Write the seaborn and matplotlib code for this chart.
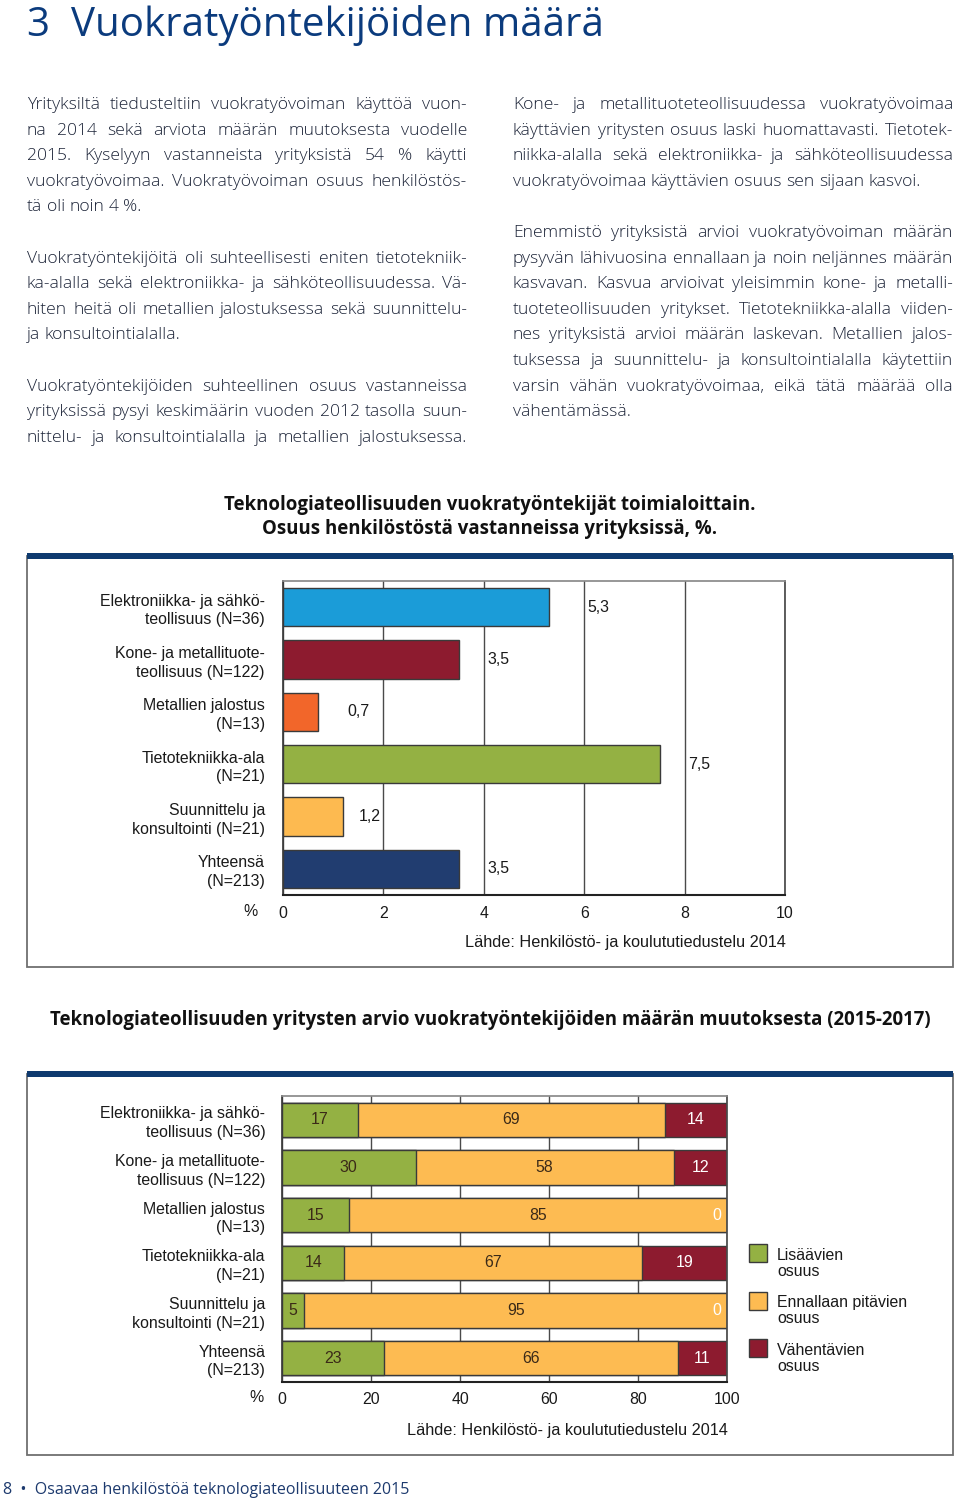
import numpy as np
import pandas as pd
import matplotlib
matplotlib.use("Agg")
import matplotlib.pyplot as plt
import seaborn as sns
from matplotlib.patches import Rectangle

sns.set_theme(style="white")
plt.rcParams["font.family"] = ["Open Sans", "DejaVu Sans"]

# ---------------- data ----------------
page_title = "3  Vuokratyöntekijöiden määrä"
footer = "8  •  Osaavaa henkilöstöä teknologiateollisuuteen 2015"

left_col = [
    ("Yrityksiltä tiedusteltiin vuokratyövoiman käyttöä vuon-", True),
    ("na 2014 sekä arviota määrän muutoksesta vuodelle", True),
    ("2015. Kyselyyn vastanneista yrityksistä 54 % käytti", True),
    ("vuokratyövoimaa. Vuokratyövoiman osuus henkilöstös-", True),
    ("tä oli noin 4 %.", False),
    None,
    ("Vuokratyöntekijöitä oli suhteellisesti eniten tietotekniik-", True),
    ("ka-alalla sekä elektroniikka- ja sähköteollisuudessa. Vä-", True),
    ("hiten heitä oli metallien jalostuksessa sekä suunnittelu-", True),
    ("ja konsultointialalla.", False),
    None,
    ("Vuokratyöntekijöiden suhteellinen osuus vastanneissa", True),
    ("yrityksissä pysyi keskimäärin vuoden 2012 tasolla suun-", True),
    ("nittelu- ja konsultointialalla ja metallien jalostuksessa.", True),
]
right_col = [
    ("Kone- ja metallituoteteollisuudessa vuokratyövoimaa", True),
    ("käyttävien yritysten osuus laski huomattavasti. Tietotek-", True),
    ("niikka-alalla sekä elektroniikka- ja sähköteollisuudessa", True),
    ("vuokratyövoimaa käyttävien osuus sen sijaan kasvoi.", False),
    None,
    ("Enemmistö yrityksistä arvioi vuokratyövoiman määrän", True),
    ("pysyvän lähivuosina ennallaan ja noin neljännes määrän", True),
    ("kasvavan. Kasvua arvioivat yleisimmin kone- ja metalli-", True),
    ("tuoteteollisuuden yritykset. Tietotekniikka-alalla viiden-", True),
    ("nes yrityksistä arvioi määrän laskevan. Metallien jalos-", True),
    ("tuksessa ja suunnittelu- ja konsultointialalla käytettiin", True),
    ("varsin vähän vuokratyövoimaa, eikä tätä määrää olla", True),
    ("vähentämässä.", False),
]

title1 = "Teknologiateollisuuden vuokratyöntekijät toimialoittain.\nOsuus henkilöstöstä vastanneissa yrityksissä, %."
title2 = "Teknologiateollisuuden yritysten arvio vuokratyöntekijöiden määrän muutoksesta (2015-2017)"
source = "Lähde: Henkilöstö- ja koulututiedustelu 2014"

categories = [
    "Elektroniikka- ja sähkö-\nteollisuus (N=36)",
    "Kone- ja metallituote-\nteollisuus (N=122)",
    "Metallien jalostus\n(N=13)",
    "Tietotekniikka-ala\n(N=21)",
    "Suunnittelu ja\nkonsultointi (N=21)",
    "Yhteensä\n(N=213)",
]
share = [5.3, 3.5, 0.7, 7.5, 1.2, 3.5]
share_labels = ["5,3", "3,5", "0,7", "7,5", "1,2", "3,5"]
share_colors = ["#1b9cd8", "#8d1b2f", "#f2662a", "#94b143", "#fdba50", "#213d70"]
ticks1 = [0, 2, 4, 6, 8, 10]

increase = [17, 30, 15, 14, 5, 23]
steady = [69, 58, 85, 67, 95, 66]
decrease = [14, 12, 0, 19, 0, 11]
series_names = ["Lisäävien\nosuus", "Ennallaan pitävien\nosuus", "Vähentävien\nosuus"]
series_colors = ["#94b143", "#fdbb52", "#8d1b2f"]
ticks2 = [0, 20, 40, 60, 80, 100]

# ---------------- figure ----------------
W, H = 960, 1501
fig = plt.figure(figsize=(W / 100, H / 100), dpi=100)
fig.patch.set_facecolor("white")
renderer = fig.canvas.get_renderer()

bg = fig.add_axes([0, 0, 1, 1], zorder=-5)
bg.set_xlim(0, W)
bg.set_ylim(H, 0)
bg.axis("off")

BODY = ["Open Sans", "DejaVu Sans"]
ARIAL = ["Liberation Sans", "DejaVu Sans"]


def text_width(s, **kw):
    t = bg.text(0, 0, s, **kw)
    w = t.get_window_extent(renderer).width
    t.remove()
    return w


def fit(s, target, **kw):
    return 20 * target / text_width(s, fontsize=20, **kw)


NAVY = "#0b3b7d"
BODYC = "#1c2438"
BW = "light"

# page title
fs_t = fit(page_title, 575, family=BODY)
bg.text(27, 36, page_title, fontsize=fs_t, family=BODY, color=NAVY, va="baseline", ha="left")

# body text (justified)
all_lines = [l for l in left_col + right_col if l is not None]
fs_b = min(fit(l[0], 440, family=BODY, weight=BW) for l in all_lines if l[1])
fs_b = fs_b * 0.995
space_w = (text_width("a a", fontsize=fs_b, family=BODY, weight=BW)
           - text_width("aa", fontsize=fs_b, family=BODY, weight=BW))


def draw_column(col, x0, x1, y0):
    y = y0
    for item in col:
        if item is None:
            y += 25.6
            continue
        line, just = item
        words = line.split(" ")
        widths = [text_width(w, fontsize=fs_b, family=BODY, weight=BW) for w in words]
        if just and len(words) > 1:
            gap = (x1 - x0 - sum(widths)) / (len(words) - 1)
        else:
            gap = space_w
        x = x0
        for w, wd in zip(words, widths):
            bg.text(x, y, w, fontsize=fs_b, family=BODY, weight=BW, color=BODYC,
                    va="baseline", ha="left")
            x += wd + gap
        y += 25.6


draw_column(left_col, 27, 467, 109)
draw_column(right_col, 513, 953, 109)

# chart titles
fs_ct = fit(title1.split("\n")[0], 528, family=BODY, weight="bold")
bg.text(490, 517, title1, fontsize=fs_ct, family=BODY, weight="bold", color="#111111",
        ha="center", va="center", linespacing=1.3, multialignment="center")
fs_ct2 = fit(title2, 880, family=BODY, weight="bold")
bg.text(490, 1020, title2, fontsize=fs_ct2, family=BODY, weight="bold", color="#111111",
        ha="center", va="center")

# boxes
for top, bottom in [(556, 967), (1074, 1455)]:
    bg.add_patch(Rectangle((27, top), 926, bottom - top, fill=False, edgecolor="#6f6f6f", lw=1.3))
    bg.add_patch(Rectangle((27, top - 3), 926, 6, facecolor="#0e3a6f", edgecolor="none"))

fs_tick = fit("Elektroniikka- ja sähkö-", 164, family=ARIAL)
TXT = "#1a1a1a"

# ---------------- chart 1 ----------------
ax1 = fig.add_axes([283 / W, 1 - 895 / H, 502 / W, 314 / H])
df1 = pd.DataFrame({"cat": categories, "val": share})
sns.barplot(data=df1, x="val", y="cat", hue="cat", palette=share_colors, legend=False,
            orient="h", width=0.73, saturation=1, edgecolor="#3a3a3a", linewidth=1, ax=ax1)
ax1.set_xlim(0, 10)
ax1.set_xticks(ticks1)
ax1.set_xticklabels([str(t) for t in ticks1], fontsize=fs_tick, family=ARIAL, color=TXT)
ax1.set_yticks(range(len(categories)))
ax1.set_yticklabels(categories, fontsize=fs_tick, family=ARIAL, color=TXT, linespacing=1.3)
ax1.tick_params(axis="y", length=0, pad=13)
ax1.tick_params(axis="x", length=0, pad=8)
ax1.set_xlabel("")
ax1.set_ylabel("")
ax1.xaxis.grid(True, color="#4a4a4a", lw=1)
ax1.yaxis.grid(False)
ax1.set_axisbelow(True)
ax1.spines["top"].set_color("#8a8a8a")
ax1.spines["right"].set_color("#4a4a4a")
ax1.spines["left"].set_color("#3a3a3a")
ax1.spines["bottom"].set_color("#222222")
ax1.spines["bottom"].set_linewidth(1.5)

lab_w = 0.44  # approximate label width in data units
for i, (v, lab) in enumerate(zip(share, share_labels)):
    start = v + 0.58
    for g in ticks1[1:]:
        if start - 0.05 < g < start + lab_w + 0.05:
            if g - start < 0.15:
                start = g + 0.06
            else:
                start = g - 0.5
            break
    ax1.text(start, i, lab, va="center", ha="left", fontsize=fs_tick, family=ARIAL, color=TXT)

bg.text(258, 912, "%", fontsize=fs_tick, family=ARIAL, color=TXT, ha="right", va="center")
fs_src = fit(source, 319, family=ARIAL)
bg.text(786, 943, source, fontsize=fs_src, family=ARIAL, color=TXT, ha="right", va="center")

# ---------------- chart 2 ----------------
ax2 = fig.add_axes([282 / W, 1 - 1382 / H, 445 / W, 286 / H])
cum1 = np.array(increase)
cum2 = cum1 + np.array(steady)
cum3 = cum2 + np.array(decrease)
for vals, col in [(cum3, series_colors[2]), (cum2, series_colors[1]), (cum1, series_colors[0])]:
    d = pd.DataFrame({"cat": categories, "val": vals})
    sns.barplot(data=d, x="val", y="cat", color=col, orient="h", width=0.72, saturation=1,
                edgecolor="#3a3a3a", linewidth=1, ax=ax2)
ax2.set_xlim(0, 100)
ax2.set_xticks(ticks2)
ax2.set_xticklabels([str(t) for t in ticks2], fontsize=fs_tick, family=ARIAL, color=TXT)
ax2.set_yticks(range(len(categories)))
ax2.set_yticklabels(categories, fontsize=fs_tick, family=ARIAL, color=TXT, linespacing=1.3)
ax2.tick_params(axis="y", length=0, pad=12)
ax2.tick_params(axis="x", length=0, pad=7)
ax2.set_xlabel("")
ax2.set_ylabel("")
ax2.xaxis.grid(True, color="#4a4a4a", lw=1)
ax2.yaxis.grid(False)
ax2.set_axisbelow(True)
ax2.spines["top"].set_color("#8a8a8a")
ax2.spines["right"].set_color("#4a4a4a")
ax2.spines["left"].set_color("#3a3a3a")
ax2.spines["bottom"].set_color("#222222")
ax2.spines["bottom"].set_linewidth(1.5)

for i in range(len(categories)):
    starts = [0, cum1[i], cum2[i]]
    vals = [increase[i], steady[i], decrease[i]]
    for k, (s, v) in enumerate(zip(starts, vals)):
        if v == 0:
            x = 97.6
            c = "white"
        else:
            x = s + v / 2
            c = "white" if k == 2 else "#3b2a18"
        ax2.text(x, i, str(v), ha="center", va="center", fontsize=fs_tick, family=ARIAL, color=c)

bg.text(264, 1398, "%", fontsize=fs_tick, family=ARIAL, color=TXT, ha="right", va="center")
bg.text(728, 1430, source, fontsize=fs_src, family=ARIAL, color=TXT, ha="right", va="center")

# legend
for k, (name, col) in enumerate(zip(series_names, series_colors)):
    top = 1244 + k * 47.5
    bg.add_patch(Rectangle((749, top), 18, 18, facecolor=col, edgecolor="#3a3a3a", lw=1))
    bg.text(777, top + 4, name, fontsize=fs_tick, family=ARIAL, color=TXT, ha="left", va="top",
            linespacing=1.05)

# footer
fs_f = fit(footer, 406, family=BODY)
bg.text(3, 1494, footer, fontsize=fs_f, family=BODY, color="#1d3a6e", ha="left", va="baseline")

fig.savefig("out.png", dpi=100, facecolor="white")
